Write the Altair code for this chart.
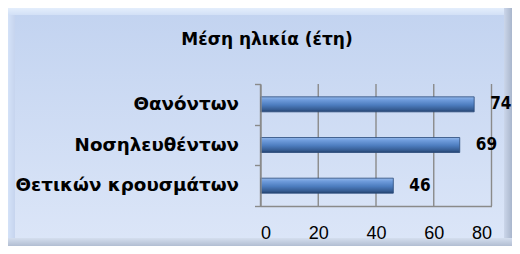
import altair as alt
import pandas as pd

categories = ["Θανόντων", "Νοσηλευθέντων", "Θετικών κρουσμάτων"]
values = [74, 69, 46]
x_ticks = [0, 20, 40, 60, 80]
title_text = "Μέση ηλικία (έτη)"

df = pd.DataFrame({"cat": categories, "val": values})
ticks_df = pd.DataFrame({"val": x_ticks})
one = alt.Data(values=[{"k": 0}])

W, H = 231, 122
L, T = 252.5, 76
CW, CH = 504, 238
GRID = "#8a8a8a"


def grad(stops, horizontal=False):
    return alt.LinearGradient(
        gradient="linear",
        stops=[alt.GradientStop(color=c, offset=o) for o, c in stops],
        x1=0, y1=0, x2=1 if horizontal else 0, y2=0 if horizontal else 1,
    )


def rect(x0, y0, x1, y1, fill):
    return alt.Chart(one).mark_rect(color=fill, strokeWidth=0).encode(
        x=alt.value(x0 - L), x2=alt.value(x1 - L),
        y=alt.value(y0 - T), y2=alt.value(y1 - T),
    )


face = rect(0, 0, CW, CH, grad([(0, "#c2d3f0"), (1, "#dce6f8")]))
left = rect(0, 0, 7, CH, grad([(0, "#d4e2f8"), (1, "#c6d4ee")], True))
top = rect(0, 0, CW, 7, grad([(0, "#e4eefc"), (1, "#d2e0f6")]))
right = rect(CW - 8, 0, CW, CH, grad([(0, "#cbd6ea"), (1, "#a9b6cc")], True))
bottom = rect(0, CH - 8, CW, CH, grad([(0, "#d4deee"), (1, "#b2bed2")]))

xscale = alt.Scale(domain=[0, 80], nice=False)
xaxis = alt.Axis(values=x_ticks, title=None, grid=False, zindex=1,
                 domain=True, domainColor=GRID, domainWidth=1.4, ticks=False, tickSize=0,
                 labelFont="Liberation Sans", labelFontSize=18, labelColor="#000000",
                 labelPadding=18)

grid = alt.Chart(ticks_df).mark_rule(color=GRID, strokeWidth=1.4).encode(
    x=alt.X("val:Q", scale=xscale, axis=xaxis)
)

bar_fill = grad([(0, "#94b8ea"), (0.2, "#6f9cdc"), (0.55, "#4c7cbe"), (0.85, "#365c92"), (1, "#23426e")])

base = alt.Chart(df)

bars = base.mark_bar(size=15, color=bar_fill, stroke="#2a4a7a", strokeWidth=0.8).encode(
    x=alt.X("val:Q", scale=xscale, axis=xaxis),
    y=alt.Y("cat:N", sort=categories, scale=alt.Scale(paddingInner=0, paddingOuter=0),
            axis=alt.Axis(title=None, domain=True, domainColor=GRID, domainWidth=1.4, zindex=1,
                          ticks=True, tickBand="extent", tickSize=6, tickColor=GRID, tickWidth=1.4,
                          labelFont="DejaVu Sans", labelFontWeight="bold", labelFontSize=18.3,
                          labelColor="#000000", labelPadding=16, labelLimit=0, grid=False)),
)

labels = base.mark_text(align="left", baseline="middle", dx=16,
                        font="DejaVu Sans Condensed, Liberation Sans",
                        fontWeight="bold", fontSize=17, color="#000000").encode(
    x="val:Q", y=alt.Y("cat:N", sort=categories), text="val:Q"
)

title = alt.Chart(one).mark_text(align="center", baseline="middle", font="DejaVu Sans",
                                 fontWeight="bold", fontSize=17, color="#000000").encode(
    x=alt.value(259 - L), y=alt.value(32 - T), text=alt.value(title_text)
)

chart = alt.layer(face, left, top, right, bottom, grid, bars, labels, title).properties(
    width=W, height=H,
    autosize=alt.AutoSizeParams(type="none"),
    padding={"left": L, "top": T, "right": CW - L - W, "bottom": CH - T - H},
).configure_view(strokeWidth=0).configure(background="#cfdcf3")

chart.save("out.html", embed_options={"renderer": "svg", "actions": False})
